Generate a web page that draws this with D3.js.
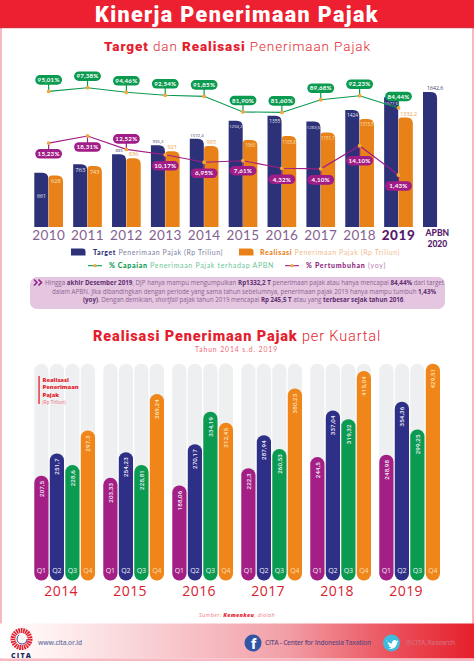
<!DOCTYPE html>
<html><head><meta charset="utf-8">
<script src="https://cdn.jsdelivr.net/npm/d3@7"></script>
<style>
html,body{margin:0;padding:0;background:#fff}
svg{display:block}
.axis path,.axis line{display:none}
</style></head><body><svg id="c" width="474" height="661" font-family="'Open Sans',sans-serif"></svg>
<script>
// ---- data ----
const years=["2010","2011","2012","2013","2014","2015","2016","2017","2018","2019","APBN 2020"];
const targetValues=[661,763,885,995.2,1072.4,1294.2,1355,1283.6,1424,1577.6,1642.6];
const targetLabels=["661","763","885","995,2","1072,4","1294,2","1355","1283,6","1424","1577,6","1642,6"];
const realisasiValues=[628,743,836,921,985,1060,1105.8,1151.1,1315.5,1332.2];
const realisasiLabels=["628","743","836","921","985","1060","1105,8","1151,1","1315,5","1332,2"];
const capaianValues=[95.01,97.38,94.46,92.54,91.85,81.90,81.60,89.68,92.23,84.44];
const pertumbuhanValues=[15.23,18.31,12.52,10.17,6.95,7.61,4.32,4.10,14.10,1.43];
const quarterYears=["2014","2015","2016","2017","2018","2019"];
const quarters=["Q1","Q2","Q3","Q4"];
const q1Values=[207.5,203.33,188.06,222.3,244.5,248.98];
const q2Values=[251.7,254.23,270.17,287.94,337.04,354.36];
const q3Values=[228.6,228.81,334.19,260.53,319.32,299.25];
const q4Values=[297.3,369.24,312.45,380.23,415.04,429.51];
const quarterSeries=[q1Values,q2Values,q3Values,q4Values];

const NAVY="#2d3278",ORANGE="#e98119",RED="#e41e2f",GREEN="#0a9a50",MAG="#a01c87";
const qColors=["#a31f85","#2e2f86","#0a9b50","#f08519"];
const pct=v=>v.toFixed(2).replace(".",",")+"%";
const qFmt=v=>String(v).replace(".",",");

const svg=d3.select("#c");
const defs=svg.append("defs");
const g=defs.append("linearGradient").attr("id","foot");
[[0,"#ffffff"],[.1,"#fff2f2"],[.3,"#f9d2d6"],[.6,"#f2a0a8"],[.85,"#ea4a55"],[1,"#e61f2c"]]
  .forEach(d=>g.append("stop").attr("offset",d[0]).attr("stop-color",d[1]));

// frame
svg.append("rect").attr("width",474).attr("height",661).attr("fill","#fff");
svg.append("rect").attr("x",0).attr("y",28).attr("width",2).attr("height",633).attr("fill","#f8b8c2");
svg.append("rect").attr("x",472).attr("y",28).attr("width",2).attr("height",633).attr("fill","#f8b8c2");
svg.append("rect").attr("width",474).attr("height",28).attr("fill","#ec2030");
svg.append("rect").attr("y",27.2).attr("width",474).attr("height",1).attr("fill","#cf3040");

function fit(sel,w){ // fit a text to a target width through letter-spacing
  sel.each(function(){
    const n=this.getNumberOfChars(),l=this.getComputedTextLength();
    d3.select(this).attr("letter-spacing",((w-l)/n).toFixed(3));
  });
  return sel;
}
function txt(x,y,parts,o={}){
  const t=svg.append("text").attr("x",x).attr("y",y).attr("font-size",o.size||7)
    .attr("text-anchor",o.anchor||"start").attr("font-family",o.font||null);
  parts.forEach(p=>t.append("tspan").text(p[0]).attr("font-weight",p[2]||400).attr("fill",p[1]).attr("font-style",p[3]||null));
  if(o.width)fit(t,o.width);
  return t;
}
const H="Roboto,sans-serif";
txt(95,22,[["Kinerja Penerimaan Pajak","#fff",900]],{size:21.5,font:H,width:284});
txt(104,51,[["Target",RED,900],[" dan ",RED,300],["Realisasi",RED,900],[" Penerimaan Pajak",RED,300]],{size:13.5,font:H,width:267});

// ---- top chart ----
const x0=d3.scaleBand().domain(years).range([34.3,451.7]).paddingInner(.262);
const x1=d3.scaleBand().domain(["t","r"]).range([0,x0.bandwidth()]);
const y=d3.scaleLinear().domain([0,1642.6]).range([227,92]);
function topBar(x,yt,w,rl,rr,b){
  return `M${x},${b}V${yt+rl}Q${x},${yt} ${x+rl},${yt}H${x+w-rr}Q${x+w},${yt} ${x+w},${yt+rr}V${b}Z`;
}
const barG=svg.append("g");
const rW=x1.bandwidth();
barG.selectAll(".t").data(targetValues).join("path").attr("class","t")
  .attr("d",(d,i)=>topBar(x0(years[i]),y(d),rW-.3,0,6,y(0))).attr("fill",NAVY);
barG.selectAll(".r").data(realisasiValues).join("path").attr("class","r")
  .attr("d",(d,i)=>topBar(x0(years[i])+rW,y(d),rW,3,6,y(0))).attr("fill",ORANGE);

// bar labels
const inside=[false,true,false,false,false,true,true,true,true,true,false];
targetValues.forEach((d,i)=>{
  const cx=x0(years[i])+rW/2;
  const yy=i==0?y(d)+25:inside[i]?y(d)+7.5:y(d)-2;
  svg.append("text").attr("x",i==10?cx+5:cx).attr("y",yy).attr("text-anchor","middle")
    .attr("font-size",i==1?6:i==8||i==6?4.8:i==0?5.2:i==10?5.2:4.3).attr("fill",inside[i]||i==0?"#e8e6f4":"#3a3a70").text(targetLabels[i]);
});
realisasiValues.forEach((d,i)=>{
  const cx=x0(years[i])+rW*1.5,above=i>=2&&i<=4||i==9;
  svg.append("text").attr("x",i==9?cx+3:cx).attr("y",above?y(d)-2:y(d)+(i==0||i==1?8:7.5)).attr("text-anchor","middle")
    .attr("font-size",i<5?5.6:i==9?5.4:4.4).attr("fill",above?"#eea04a":"#fbe2bd").text(realisasiLabels[i]);
});

// axis
const ax=svg.append("g").attr("class","axis").attr("transform","translate(0,227)")
  .call(d3.axisBottom(x0).tickSize(0).tickPadding(3));
ax.selectAll("text").each(function(d){
  const t=d3.select(this).attr("font-family","Lato,sans-serif");
  if(d==="2019"){t.attr("font-size",13.5).attr("font-weight",900).attr("fill","#57196b").attr("dy","0.76em").attr("letter-spacing",0.6);}
  else if(d==="APBN 2020"){
    t.text(null).attr("font-size",8.5).attr("font-weight",900).attr("fill","#57196b").attr("dy",null);
    t.append("tspan").attr("x",0).attr("y",8.5).text("APBN");
    t.append("tspan").attr("x",0).attr("y",20).text("2020");
  } else {t.attr("font-size",13.5).attr("fill","#84628f").attr("dy","0.76em").attr("letter-spacing",0.4);}
});

// lines
const cxp=i=>x0(years[i])+x0.bandwidth()/2;
const yC=d3.scaleLinear().domain([81.6,97.38]).range([112.4,87.7]);
const yP=d3.scaleLinear().domain([1.43,18.31]).range([175,136]);
function series(vals,ys,col,dyFn){
  const l=d3.line().x((d,i)=>cxp(i)).y(d=>ys(d));
  svg.append("path").attr("d",l(vals)).attr("fill","none").attr("stroke",col).attr("stroke-width",1.1);
  vals.forEach((v,i)=>{
    const px=cxp(i),py=ys(v),off=dyFn(i),cy=py+off;
    svg.append("line").attr("x1",px).attr("x2",px).attr("y1",py).attr("y2",cy).attr("stroke",col).attr("stroke-width",1.2);
    svg.append("rect").attr("x",px-13.4).attr("y",cy-4.8).attr("width",26.8).attr("height",9.6).attr("rx",4.8).attr("fill",col);
    svg.append("text").attr("x",px).attr("y",cy+2.2).attr("text-anchor","middle").attr("font-size",6.2)
      .attr("font-family","Lato,sans-serif").attr("font-weight",700).attr("letter-spacing",0.2).attr("fill","#fff").text(pct(v));
    svg.append("circle").attr("cx",px).attr("cy",py).attr("r",1.9).attr("fill","#eeaa3a");
  });
}
series(capaianValues,yC,GREEN,()=>-11.5);
const pOff=[10.7,11,-10.5,11,11,10,11,11,15,11];
series(pertumbuhanValues,yP,MAG,i=>pOff[i]);

// legend
svg.append("path").attr("d",topBar(71,248.5,14.5,0,3,255.5)).attr("fill",NAVY);
svg.append("path").attr("d",topBar(239,248.5,14.5,0,3,255.5)).attr("fill",ORANGE);
const L="Lato,sans-serif";
txt(93,254.5,[["Target",NAVY,900],[" Penerimaan Pajak (Rp Triliun)","#7d80a2",400]],{size:7,font:L,width:130});
txt(260,254.5,[["Realisasi",ORANGE,900],[" Penerimaan Pajak (Rp Triliun)","#f2bd8c",400]],{size:7,font:L,width:140});
[[88,GREEN],[285,MAG]].forEach(d=>{
  svg.append("line").attr("x1",d[0]).attr("x2",d[0]+14).attr("y1",265.7).attr("y2",265.7).attr("stroke",d[1]).attr("stroke-width",1.1);
  svg.append("circle").attr("cx",d[0]+7).attr("cy",265.7).attr("r",1.6).attr("fill","#eeaa3a");
});
txt(109,268.2,[["% Capaian",GREEN,900],[" Penerimaan Pajak terhadap APBN","#6cc69a",400]],{size:7,font:L,width:165});
txt(306,268.2,[["% Pertumbuhan","#8e1f80",900],[" (yoy)","#b87bb0",400]],{size:7,font:L,width:80});

// note
svg.append("rect").attr("x",30).attr("y",277).attr("width",415).attr("height",32).attr("rx",7).attr("fill","#e4c6e0");
svg.append("path").attr("d","M34,279.5l3,3-3,3M38.5,279.5l3,3-3,3").attr("fill","none").attr("stroke","#8e1f80").attr("stroke-width",1.5);
const nc="#8a6390",nb="#5f2f6f";
txt(45,285,[["Hingga ",nc],["akhir Desember 2019",nb,700],[", DJP hanya mampu mengumpulkan ",nc],["Rp1332,2 T",nb,700],[" penerimaan pajak atau hanya mencapai ",nc],["84,44%",nb,700],[" dari target",nc]],{size:6.2,width:399});
txt(52,293.6,[["dalam APBN. Jika dibandingkan dengan periode yang sama tahun sebelumnya, penerimaan pajak 2019 hanya mampu tumbuh ",nc],["1,43%",nb,700]],{size:6.2,width:384});
txt(83,302.2,[["(yoy)",nb,700],[". Dengan demikian, ",nc],["shortfall",nc,400,"italic"],[" pajak tahun 2019 mencapai ",nc],["Rp 245,5 T",nb,700],[" atau yang ",nc],["terbesar sejak tahun 2016",nb,700],[".",nc]],{size:6.2,width:322});

// ---- bottom chart ----
txt(93,341,[["Realisasi Penerimaan Pajak",RED,900],[" per Kuartal",RED,300]],{size:14.5,font:H,width:288});
txt(195,351.5,[["Tahun 2014 s.d. 2019","#ee6a75",400]],{size:6.8,font:L,width:83});
const qx=d3.scaleBand().domain(quarterYears).range([34.3,440]).paddingInner(.12);
const qi=d3.scaleBand().domain(quarters).range([0,qx.bandwidth()]).paddingInner(.083);
const qy=d3.scaleLinear().domain([0,429.51]).range([580.5,363.7]);
quarterYears.forEach((yr,yi)=>{
  const gy=svg.append("g").attr("transform",`translate(${qx(yr)},0)`);
  quarters.forEach((q,qn)=>{
    const v=quarterSeries[qn][yi],bx=qi(q),w=qi.bandwidth();
    gy.append("rect").attr("x",bx).attr("y",qy.range()[1]).attr("width",w).attr("height",qy(0)-qy.range()[1]).attr("rx",7).attr("fill","#eeeff1");
    gy.append("rect").attr("x",bx).attr("y",qy(v)).attr("width",w).attr("height",qy(0)-qy(v)).attr("rx",7).attr("fill",qColors[qn]);
    gy.append("text").attr("x",bx+w/2).attr("y",572.5).attr("text-anchor","middle").attr("font-size",7).attr("fill",qn==3?"#fbdcb0":"#f2eef6").text(q);
    gy.append("text").attr("transform",`translate(${bx+w/2+2.2},${qy(v)+5}) rotate(-90)`).attr("text-anchor","end")
      .attr("font-family",H).attr("font-size",6.2).attr("font-weight",500).attr("letter-spacing",0.15).attr("fill",qn==3?"#fde2bd":"#f3ecf6").text(qFmt(v));
  });
});
const qax=svg.append("g").attr("class","axis").attr("transform","translate(-3.5,580.5)")
  .call(d3.axisBottom(qx).tickSize(0).tickPadding(4));
qax.selectAll("text").attr("font-size",14).attr("fill","#d9202f").attr("font-family","'Open Sans',sans-serif").attr("letter-spacing",0.4).attr("dy","0.82em");

// side note
svg.append("rect").attr("x",38.4).attr("y",376).attr("width",1.3).attr("height",28).attr("fill",RED);
["Realisasi","Penerimaan","Pajak"].forEach((t,i)=>txt(42.5,381.5+i*7.6,[[t,RED,800]],{size:5.8}));
txt(42.5,403.5,[["(Rp Triliun)","#ec6a75",400]],{size:4.6});

// source + footer
txt(199,617,[["Sumber: ","#ee7a85",400,"italic"],["Kemenkeu",RED,800,"italic"],[", diolah","#ee7a85",400,"italic"]],{size:5.4,width:76});
svg.append("rect").attr("x",0).attr("y",623.5).attr("width",474).attr("height",35).attr("fill","url(#foot)");
svg.append("rect").attr("x",0).attr("y",658.5).attr("width",474).attr("height",2.5).attr("fill","#f8b8c2");
svg.append("circle").attr("cx",21.5).attr("cy",639).attr("r",8.5).attr("fill","none").attr("stroke","#e4202f").attr("stroke-width",5).attr("stroke-dasharray","1.6 .7");
svg.append("circle").attr("cx",22).attr("cy",639).attr("r",5).attr("fill","none").attr("stroke","#3c4a8c").attr("stroke-width",1).attr("stroke-dasharray","20 12");
txt(11,657.5,[["CITA","#1c2a5c",800]],{size:7,width:21});
txt(38,645,[["www.cita.or.id","#6f7aa8",600]],{size:6.6,width:44});
svg.append("circle").attr("cx",253).attr("cy",643).attr("r",8.5).attr("fill","#2f55a4");
txt(251,649,[["f","#fff",800]],{size:15,font:H});
txt(265,645.3,[["CITA - Center for Indonesia Taxation","#6c4a80",600]],{size:6.6,width:106});
svg.append("circle").attr("cx",391.5).attr("cy",643).attr("r",8.5).attr("fill","#3dbcdf");
svg.append("path").attr("d","M386,640.5c2,2 4,3 6,3c-.5,-3 3,-4.5 4.5,-2.5l1.7,-.7l-.9,1.5l1,-.2c-.4,.7 -.9,1 -1.4,1.4c0,4 -4,7 -9,5.5c1.5,0 2.5,-.4 3.5,-1.1c-1.5,-.3 -2.3,-1 -2.7,-2l1,-.1c-1.4,-.6 -2.2,-1.6 -2.2,-2.8l1,.3c-1.3,-1.1 -1.5,-2.2 -1.5,-2.3z").attr("fill","#fff");
txt(406,645.3,[["@CITA_Research","#d66a78",600]],{size:6.6,width:49});
</script></body></html>
